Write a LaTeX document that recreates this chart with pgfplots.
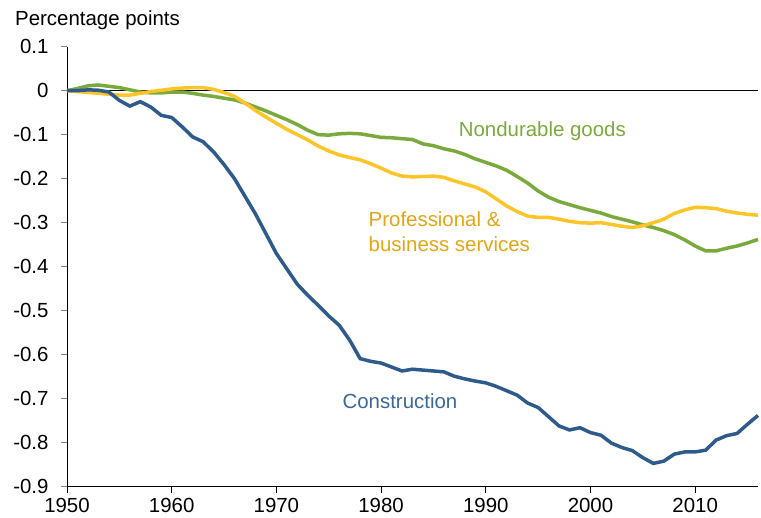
\documentclass[border=0pt]{standalone}
\usepackage{pgfplots}
\pgfplotsset{compat=1.18}
\usepackage{fontspec}
\setmainfont{Liberation Sans}
\definecolor{cblue}{HTML}{2E5B8C}
\definecolor{cbluet}{HTML}{3A6898}
\definecolor{cgreen}{HTML}{7BAA3C}
\definecolor{cyel}{HTML}{FDC52A}
\definecolor{cyelt}{HTML}{E2A615}
\begin{document}
\begin{tikzpicture}
\path[use as bounding box] (-67bp,-31.3bp) rectangle (694bp,486.7bp);
\begin{axis}[
  at={(0,0)}, anchor=south west,
  scale only axis, width=691bp, height=440bp,
  xmin=1950, xmax=2016, ymin=-0.9, ymax=0.1,
  axis x line*=bottom, axis y line*=left,
  axis line style={black, line width=1pt},
  xtick={1950,1960,...,2010},
  ytick={-0.9,-0.8,...,0.1},
  yticklabels={-0.9,-0.8,-0.7,-0.6,-0.5,-0.4,-0.3,-0.2,-0.1,0,0.1},
  xticklabel style={/pgf/number format/1000 sep={}, yshift=-2bp},
  yticklabel style={xshift=-9bp},
  /pgf/number format/assume math mode=true,
  tick align=outside,
  ytick style={gray, line width=0.8pt},
  xtick style={black, line width=0.8pt},
  major tick length=6bp,
  tick label style={font=\fontsize{20.5}{23}\selectfont},
  clip=false,
]
\addplot[black, line width=0.8pt, forget plot] coordinates {(1950,0) (2016,0)};
\addplot[cgreen, line width=3.5bp] coordinates {
(1950,0) (1951,0.005) (1952,0.011) (1953,0.013) (1954,0.01) (1955,0.007) (1956,0.002) (1957,-0.003) (1958,-0.005) (1959,-0.005)
(1960,-0.003) (1961,-0.003) (1962,-0.006) (1963,-0.01) (1964,-0.013) (1965,-0.017) (1966,-0.021) (1967,-0.028) (1968,-0.037) (1969,-0.046)
(1970,-0.056) (1971,-0.066) (1972,-0.077) (1973,-0.09) (1974,-0.1) (1975,-0.101) (1976,-0.098) (1977,-0.097) (1978,-0.098) (1979,-0.102)
(1980,-0.106) (1981,-0.107) (1982,-0.109) (1983,-0.111) (1984,-0.121) (1985,-0.125) (1986,-0.132) (1987,-0.137) (1988,-0.145) (1989,-0.155)
(1990,-0.163) (1991,-0.171) (1992,-0.181) (1993,-0.195) (1994,-0.21) (1995,-0.228) (1996,-0.242) (1997,-0.252) (1998,-0.259) (1999,-0.266)
(2000,-0.272) (2001,-0.278) (2002,-0.286) (2003,-0.292) (2004,-0.298) (2005,-0.305) (2006,-0.311) (2007,-0.318) (2008,-0.327) (2009,-0.339)
(2010,-0.353) (2011,-0.364) (2012,-0.364) (2013,-0.358) (2014,-0.353) (2015,-0.346) (2016,-0.338)};
\addplot[cyel, line width=3.5bp] coordinates {
(1950,0) (1951,-0.002) (1952,-0.004) (1953,-0.006) (1954,-0.008) (1955,-0.01) (1956,-0.01) (1957,-0.006) (1958,-0.002) (1959,0.001)
(1960,0.004) (1961,0.006) (1962,0.007) (1963,0.007) (1964,0.003) (1965,-0.004) (1966,-0.013) (1967,-0.028) (1968,-0.045) (1969,-0.06)
(1970,-0.074) (1971,-0.088) (1972,-0.1) (1973,-0.112) (1974,-0.126) (1975,-0.137) (1976,-0.146) (1977,-0.152) (1978,-0.157) (1979,-0.166)
(1980,-0.176) (1981,-0.187) (1982,-0.194) (1983,-0.196) (1984,-0.195) (1985,-0.194) (1986,-0.197) (1987,-0.205) (1988,-0.212) (1989,-0.219)
(1990,-0.23) (1991,-0.246) (1992,-0.262) (1993,-0.275) (1994,-0.285) (1995,-0.288) (1996,-0.288) (1997,-0.292) (1998,-0.297) (1999,-0.3)
(2000,-0.301) (2001,-0.3) (2002,-0.304) (2003,-0.308) (2004,-0.311) (2005,-0.307) (2006,-0.3) (2007,-0.292) (2008,-0.279) (2009,-0.271)
(2010,-0.265) (2011,-0.266) (2012,-0.268) (2013,-0.274) (2014,-0.278) (2015,-0.281) (2016,-0.283)};
\addplot[cblue, line width=3.5bp] coordinates {
(1950,0) (1951,0) (1952,0.002) (1953,0.001) (1954,-0.003) (1955,-0.022) (1956,-0.035) (1957,-0.025) (1958,-0.037) (1959,-0.056)
(1960,-0.061) (1961,-0.082) (1962,-0.105) (1963,-0.116) (1964,-0.139) (1965,-0.168) (1966,-0.2) (1967,-0.24) (1968,-0.28) (1969,-0.325)
(1970,-0.37) (1971,-0.405) (1972,-0.44) (1973,-0.465) (1974,-0.488) (1975,-0.512) (1976,-0.533) (1977,-0.567) (1978,-0.609) (1979,-0.615)
(1980,-0.619) (1981,-0.628) (1982,-0.637) (1983,-0.633) (1984,-0.635) (1985,-0.637) (1986,-0.639) (1987,-0.649) (1988,-0.655) (1989,-0.66)
(1990,-0.664) (1991,-0.672) (1992,-0.682) (1993,-0.692) (1994,-0.71) (1995,-0.72) (1996,-0.741) (1997,-0.762) (1998,-0.771) (1999,-0.766)
(2000,-0.777) (2001,-0.783) (2002,-0.801) (2003,-0.811) (2004,-0.818) (2005,-0.834) (2006,-0.847) (2007,-0.842) (2008,-0.826) (2009,-0.821)
(2010,-0.821) (2011,-0.817) (2012,-0.794) (2013,-0.784) (2014,-0.779) (2015,-0.758) (2016,-0.738)};
\node[cgreen, font=\fontsize{20.5}{23}\selectfont] at (axis cs:1995.4,-0.092) {Nondurable goods};
\node[cyelt, font=\fontsize{20.5}{25}\selectfont, anchor=west, align=left, inner sep=0pt] at (axis cs:1978.8,-0.32) {Professional \&\\business services};
\node[cbluet, font=\fontsize{20.5}{23}\selectfont] at (axis cs:1981.8,-0.706) {Construction};
\node[anchor=west, inner sep=0pt, font=\fontsize{20.5}{23}\selectfont] at ([xshift=-52bp,yshift=26.7bp]rel axis cs:0,1) {Percentage points};
\end{axis}
\end{tikzpicture}
\end{document}
